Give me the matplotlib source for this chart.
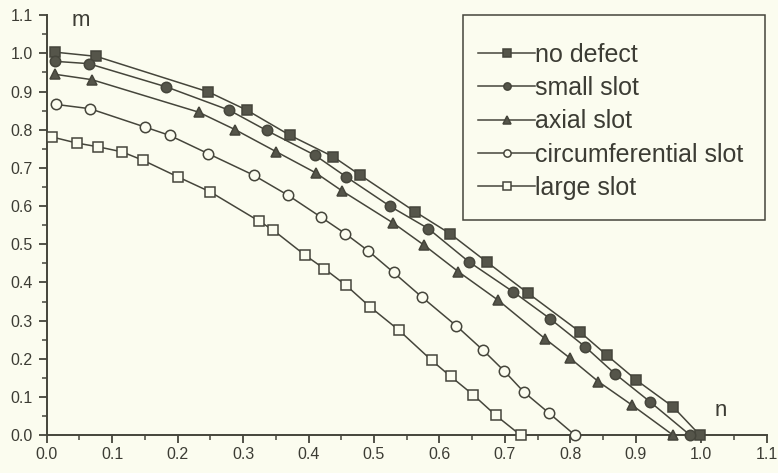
import matplotlib
matplotlib.use('Agg')
import matplotlib.pyplot as plt
from matplotlib.ticker import MultipleLocator, FormatStrFormatter
from matplotlib.patches import Rectangle

plt.rcParams['font.family'] = ['Liberation Sans', 'DejaVu Sans']

# data
n_no = [0.013, 0.076, 0.247, 0.306, 0.372, 0.438, 0.479, 0.563, 0.616, 0.672, 0.736, 0.815, 0.856, 0.901, 0.957, 0.998]
m_no = [1.003, 0.992, 0.899, 0.851, 0.785, 0.729, 0.681, 0.585, 0.528, 0.454, 0.371, 0.270, 0.209, 0.144, 0.074, 0.0]

n_small = [0.013, 0.064, 0.183, 0.279, 0.336, 0.410, 0.458, 0.525, 0.583, 0.645, 0.713, 0.769, 0.823, 0.868, 0.922, 0.983]
m_small = [0.979, 0.973, 0.912, 0.851, 0.798, 0.733, 0.676, 0.599, 0.541, 0.454, 0.375, 0.305, 0.231, 0.161, 0.087, 0.0]

n_axial = [0.013, 0.069, 0.232, 0.288, 0.351, 0.411, 0.451, 0.529, 0.577, 0.629, 0.690, 0.761, 0.800, 0.843, 0.894, 0.957]
m_axial = [0.945, 0.931, 0.846, 0.800, 0.742, 0.687, 0.640, 0.556, 0.497, 0.428, 0.353, 0.253, 0.201, 0.140, 0.079, 0.0]

n_circ = [0.015, 0.066, 0.150, 0.188, 0.247, 0.316, 0.369, 0.419, 0.456, 0.491, 0.530, 0.573, 0.626, 0.667, 0.699, 0.729, 0.768, 0.807]
m_circ = [0.866, 0.855, 0.807, 0.785, 0.737, 0.681, 0.628, 0.571, 0.528, 0.483, 0.426, 0.362, 0.286, 0.222, 0.168, 0.113, 0.057, 0.0]

n_large = [0.008, 0.046, 0.079, 0.115, 0.147, 0.201, 0.250, 0.325, 0.346, 0.395, 0.424, 0.457, 0.494, 0.538, 0.588, 0.617, 0.652, 0.686, 0.724]
m_large = [0.781, 0.765, 0.755, 0.742, 0.720, 0.676, 0.637, 0.560, 0.537, 0.471, 0.436, 0.393, 0.336, 0.275, 0.196, 0.154, 0.105, 0.052, 0.0]

labels = ['no defect', 'small slot', 'axial slot', 'circumferential slot', 'large slot']

bg = '#fbfcef'
ink = '#45453b'
fill = '#55554a'
txt = '#3c3c34'

fig = plt.figure(figsize=(7.78, 4.73), dpi=100, facecolor=bg)
ax = fig.add_axes([0.06, 0.08, 0.9255, 0.888], facecolor=bg)

# 선 + 마커
series = [
    (n_no, m_no, 's', fill),
    (n_small, m_small, 'o', fill),
    (n_axial, m_axial, '^', fill),
    (n_circ, m_circ, 'o', bg),
    (n_large, m_large, 's', bg),
]
for (x, y, mk, fc), lab in zip(series, labels):
    ax.plot(x, y, color=ink, lw=1.1, marker=mk, markersize=7.5,
            markerfacecolor=fc, markeredgecolor=ink, markeredgewidth=1.1,
            label=lab, clip_on=False, zorder=3)

ax.set_xlim(0, 1.1)
ax.set_ylim(0, 1.1)

ax.spines['top'].set_visible(False)
ax.spines['right'].set_visible(False)
for s in ['left', 'bottom']:
    ax.spines[s].set_color(ink)
    ax.spines[s].set_linewidth(1.4)

ax.xaxis.set_major_locator(MultipleLocator(0.1))
ax.xaxis.set_minor_locator(MultipleLocator(0.05))
ax.yaxis.set_major_locator(MultipleLocator(0.1))
ax.yaxis.set_minor_locator(MultipleLocator(0.05))
ax.xaxis.set_major_formatter(FormatStrFormatter('%.1f'))
ax.yaxis.set_major_formatter(FormatStrFormatter('%.1f'))
ax.tick_params(which='major', direction='out', length=6, width=1.3, color=ink,
               labelsize=11.5, labelcolor=txt)
ax.tick_params(which='minor', direction='out', length=3.5, width=1.1, color=ink)
ax.tick_params(axis='x', pad=2.5)
ax.tick_params(axis='y', pad=4)

# 축 라벨
ax.text(0.038, 1.085, 'm', fontsize=16, color=txt, ha='left', va='center')
ax.text(1.03, 0.065, 'n', fontsize=16, color=txt, ha='center', va='center')

# legend 설정 - frame drawn separately
box = Rectangle((0.578, 0.512), 0.42, 0.488, transform=ax.transAxes,
                facecolor=bg, edgecolor=ink, lw=1.1, zorder=4, clip_on=False)
ax.add_patch(box)
leg = ax.legend(loc='upper left', bbox_to_anchor=(0.599, 0.934), borderaxespad=0,
                fontsize=18, handlelength=2.3, handletextpad=0.0, markerscale=0.7,
                labelspacing=0.37, borderpad=0, frameon=False)
leg.set_zorder(5)
for t in leg.get_texts():
    t.set_color(txt)

fig.savefig('out.png', dpi=100, facecolor=bg)
